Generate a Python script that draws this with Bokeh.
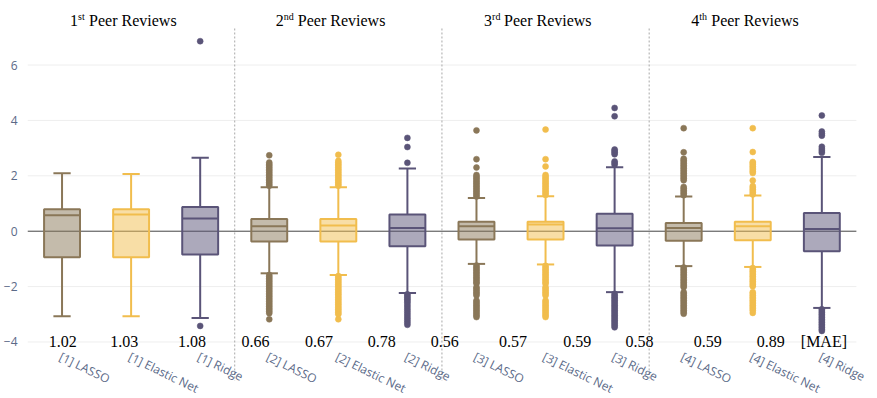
from bokeh.plotting import figure
from bokeh.models import Range1d, FixedTicker, ColumnDataSource
from bokeh.embed import file_html
from bokeh.resources import INLINE
from bokeh.core.properties import value

# ---------------- data ----------------
models = ["[1] LASSO", "[1] Elastic Net", "[1] Ridge",
          "[2] LASSO", "[2] Elastic Net", "[2] Ridge",
          "[3] LASSO", "[3] Elastic Net", "[3] Ridge",
          "[4] LASSO", "[4] Elastic Net", "[4] Ridge"]
method = ["LASSO", "Elastic Net", "Ridge"] * 4

q1 = [-0.94, -0.94, -0.84, -0.37, -0.37, -0.54, -0.30, -0.30, -0.52, -0.34, -0.33, -0.72]
median = [0.58, 0.60, 0.46, 0.18, 0.21, 0.12, 0.18, 0.24, 0.11, 0.12, 0.18, 0.08]
q3 = [0.79, 0.79, 0.87, 0.44, 0.44, 0.60, 0.34, 0.34, 0.63, 0.30, 0.34, 0.66]
whisker_low = [-3.07, -3.07, -3.13, -1.52, -1.58, -2.23, -1.18, -1.20, -2.20, -1.26, -1.29, -2.77]
whisker_high = [2.09, 2.07, 2.65, 1.59, 1.59, 2.26, 1.20, 1.26, 2.31, 1.25, 1.29, 2.68]

out_1_lasso = []
out_1_enet = []
out_1_ridge = [6.86, -3.42]
out_2_lasso = [1.64, 1.70, 1.76, 1.82, 1.88, 1.94, 2.00, 2.06, 2.12, 2.18, 2.24, 2.30, 2.36, 2.42, 2.48, 2.74,
               -1.58, -1.64, -1.70, -1.76, -1.82, -1.88, -1.94, -2.00, -2.06, -2.12, -2.18, -2.24, -2.30,
               -2.36, -2.42, -2.48, -2.54, -2.60, -2.66, -2.72, -2.78, -2.84, -2.90, -2.96, -3.18]
out_2_enet = [1.64, 1.70, 1.76, 1.82, 1.88, 1.94, 2.00, 2.06, 2.12, 2.18, 2.24, 2.30, 2.36, 2.42, 2.48, 2.54, 2.76,
              -1.62, -1.68, -1.74, -1.80, -1.86, -1.92, -1.98, -2.04, -2.10, -2.16, -2.22, -2.28, -2.34,
              -2.40, -2.46, -2.52, -2.58, -2.64, -2.70, -2.76, -2.82, -2.88, -2.94, -3.00, -3.18]
out_2_ridge = [2.47, 3.04, 3.37,
               -2.28, -2.34, -2.40, -2.46, -2.52, -2.58, -2.66, -2.74, -2.82, -2.90, -2.98, -3.06, -3.14,
               -3.22, -3.30, -3.38]
out_3_lasso = [1.25, 1.31, 1.37, 1.43, 1.49, 1.55, 1.61, 1.67, 1.73, 1.79, 1.85, 1.91, 1.97, 2.03, 2.30, 2.60, 3.64,
               -1.24, -1.30, -1.36, -1.42, -1.48, -1.54, -1.60, -1.66, -1.72, -1.78, -1.84, -1.89,
               -2.02, -2.08, -2.14, -2.20, -2.26, -2.32,
               -2.50, -2.56, -2.62, -2.68, -2.74, -2.80, -2.86, -2.92, -2.98, -3.04, -3.10]
out_3_enet = [1.31, 1.37, 1.43, 1.49, 1.55, 1.61, 1.67, 1.73, 1.79, 1.85, 1.91, 1.97, 2.03, 2.34, 2.60, 3.67,
              -1.25, -1.31, -1.37, -1.43, -1.49, -1.55, -1.61, -1.67, -1.73, -1.79, -1.85, -1.90,
              -2.02, -2.08, -2.14, -2.20, -2.26, -2.32,
              -2.50, -2.56, -2.62, -2.68, -2.74, -2.80, -2.86, -2.92, -2.98, -3.04, -3.10]
out_3_ridge = [2.40, 2.46, 2.52, 2.78, 2.84, 2.90, 2.95, 4.15, 4.45,
               -2.26, -2.32, -2.38, -2.44, -2.50, -2.56, -2.62, -2.68, -2.74, -2.80, -2.86, -2.92,
               -2.98, -3.04, -3.10, -3.16, -3.22, -3.28, -3.34, -3.40, -3.47]
out_4_lasso = [1.30, 1.36, 1.42, 1.48, 1.54, 1.60, 1.84, 1.90, 1.96, 2.02, 2.08, 2.14,
               2.20, 2.26, 2.32, 2.38, 2.44, 2.50, 2.56, 2.62, 2.85, 3.72,
               -1.31, -1.37, -1.43, -1.49, -1.55, -1.61, -1.67, -1.73, -1.79, -1.85, -1.91, -1.97, -2.02,
               -2.20, -2.26, -2.32, -2.38, -2.44, -2.50, -2.56, -2.62, -2.68, -2.74, -2.80, -2.86, -2.92, -2.98]
out_4_enet = [1.33, 1.39, 1.45, 1.51, 1.57, 1.63, 1.83, 2.10, 2.16, 2.22, 2.28, 2.34, 2.40, 2.46, 2.50, 2.86, 3.72,
              -1.33, -1.39, -1.45, -1.51, -1.57, -1.63, -1.69, -1.75, -1.81, -1.87, -1.93, -1.99,
              -2.20, -2.26, -2.32, -2.38, -2.44, -2.50, -2.56, -2.62, -2.68, -2.74, -2.80, -2.86, -2.95]
out_4_ridge = [2.83, 2.90, 2.97, 3.05, 3.45, 3.52, 3.60, 4.18,
               -2.82, -2.88, -2.94, -3.00, -3.06, -3.12, -3.18, -3.24, -3.30, -3.36, -3.42, -3.48,
               -3.54, -3.60]

outliers = [out_1_lasso, out_1_enet, out_1_ridge, out_2_lasso, out_2_enet, out_2_ridge,
            out_3_lasso, out_3_enet, out_3_ridge, out_4_lasso, out_4_enet, out_4_ridge]

mae_labels = ["1.02", "1.03", "1.08", "0.66", "0.67", "0.78", "0.56",
              "0.57", "0.59", "0.58", "0.59", "0.89", "[MAE]"]

title_num = ["1", "2", "3", "4"]
title_sup = ["st", "nd", "rd", "th"]
title_main = "Peer Reviews"

# ---------------- layout / style ----------------
colors = {"LASSO": "#8A7758", "Elastic Net": "#F1BD4D", "Ridge": "#5A5478"}
tick_color = "#5b6a88"
box_w = 0.52
cap_w = 0.25
mae_pos = [0.01, 0.90, 1.88, 2.80, 3.72, 4.63, 5.54, 6.53, 7.46, 8.36, 9.35, 10.26, 11.03]
sup_w = {"st": 7, "nd": 10, "rd": 8, "th": 8}
x_lo, x_hi = -0.5, 11.5          # extent of the plotted area (grid, zero line)

n = len(models)
idx = list(range(n))
col = [colors[m] for m in method]

p = figure(width=869, height=398, x_range=Range1d(-0.5, 11.69), y_range=Range1d(-6.04, 8.33),
           output_backend="svg", toolbar_location=None, x_axis_location=None,
           min_border_left=19, min_border_right=0, min_border_top=0, min_border_bottom=0)
p.outline_line_color = None
p.background_fill_color = "white"
p.xgrid.visible = False
p.ygrid.visible = False
ticks = [-4, -2, 0, 2, 4, 6]
p.yaxis.ticker = FixedTicker(ticks=ticks)
p.yaxis.major_label_overrides = {t: (("\u2212" + str(-t)) if t < 0 else str(t)) for t in ticks}
p.yaxis.axis_line_color = None
p.yaxis.major_tick_line_color = None
p.yaxis.minor_tick_line_color = None
p.yaxis.major_label_standoff = 4
p.yaxis.major_label_text_font = "Open Sans"
p.yaxis.major_label_text_font_size = "12px"
p.yaxis.major_label_text_color = tick_color

# grid lines and zero line across the plotted area
grid_t = [t for t in ticks if t != 0]
p.segment(x0=[x_lo] * len(grid_t), x1=[x_hi] * len(grid_t), y0=grid_t, y1=grid_t,
          line_color="#eeeeee", line_width=1)
p.segment(x0=[x_lo], x1=[x_hi], y0=[0], y1=[0], line_color="#444444", line_width=1)

# group separators
sep_x = [3 * g - 0.5 for g in range(1, 4)]
p.segment(x0=sep_x, x1=sep_x, y0=[7.32] * 3, y1=[-5.40] * 3,
          line_color="#a8a8a8", line_width=1, line_dash="2 2")

src = ColumnDataSource(dict(x=idx, q1=q1, q3=q3, med=median, lo=whisker_low, hi=whisker_high, c=col,
                            bl=[i - box_w / 2 for i in idx], br=[i + box_w / 2 for i in idx],
                            cl=[i - cap_w / 2 for i in idx], cr=[i + cap_w / 2 for i in idx]))
# whiskers
p.segment(x0="x", x1="x", y0="q3", y1="hi", source=src, line_color="c", line_width=2)
p.segment(x0="x", x1="x", y0="q1", y1="lo", source=src, line_color="c", line_width=2)
p.segment(x0="cl", x1="cr", y0="hi", y1="hi", source=src, line_color="c", line_width=2)
p.segment(x0="cl", x1="cr", y0="lo", y1="lo", source=src, line_color="c", line_width=2)
# boxes
p.vbar(x="x", width=box_w, top="q3", bottom="q1", source=src, fill_color="c", fill_alpha=0.5,
       line_color="c", line_width=2)
p.segment(x0="bl", x1="br", y0="med", y1="med", source=src, line_color="c", line_width=2)

# outliers
ox, oy, oc = [], [], []
for i, vals in enumerate(outliers):
    for v in vals:
        ox.append(i)
        oy.append(v)
        oc.append(col[i])
p.scatter(x=ox, y=oy, size=6, fill_color=oc, line_color=oc, line_width=0.5)

# x tick labels (rotated)
p.text(x=idx, y=[-4.22] * n, text=models, angle=-26, angle_units="deg", x_offset=2,
       text_align="left", text_baseline="top", text_font=value("Open Sans"),
       text_font_size="12px", text_color=tick_color)

# MAE labels
p.text(x=mae_pos, y=[-4] * len(mae_labels), text=mae_labels, text_align="center",
       text_baseline="middle", text_font=value("Liberation Serif"), text_font_size="16px",
       text_color="black")

# group titles
gx = [3 * g + 1 for g in range(4)]
for g in range(4):
    sw = sup_w[title_sup[g]]
    total = 7 + sw + 4 + 88
    x0 = -8 - total / 2
    p.text(x=[gx[g]], y=[7.62], text=[title_num[g]], x_offset=x0, text_align="left",
           text_baseline="middle", text_font=value("Liberation Serif"), text_font_size="16px",
           text_color="black")
    p.text(x=[gx[g]], y=[7.62], text=[title_sup[g]], x_offset=x0 + 8, y_offset=-4, text_align="left",
           text_baseline="middle", text_font=value("Liberation Serif"), text_font_size="10px",
           text_color="black")
    p.text(x=[gx[g]], y=[7.62], text=[title_main], x_offset=x0 + 8 + sw + 4, text_align="left",
           text_baseline="middle", text_font=value("Liberation Serif"), text_font_size="16px",
           text_color="black")

open("out.html", "w").write(file_html(p, INLINE))
